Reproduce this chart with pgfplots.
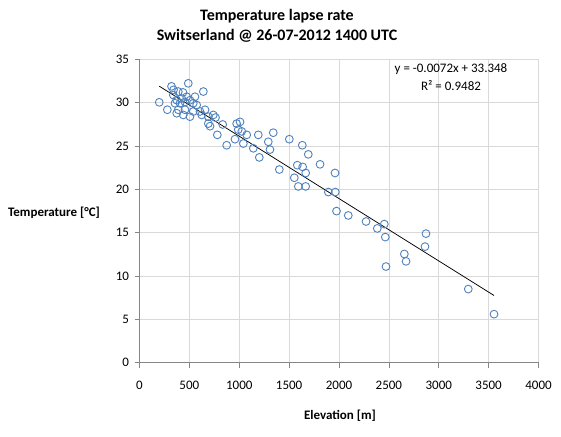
\documentclass[border=0pt]{standalone}
\usepackage{pgfplots}
\pgfplotsset{compat=1.18}
\usepackage{fontspec}
\setmainfont{Carlito}
\definecolor{mblue}{HTML}{4F81BD}
\definecolor{gridgray}{HTML}{D9D9D9}
\definecolor{axisgray}{HTML}{868686}
\begin{document}
\begin{tikzpicture}
\path[use as bounding box] (0,0) rectangle (561pt,436pt);
\begin{axis}[
  scale only axis, width=399pt, height=303.2pt,
  at={(139.5pt,73.3pt)}, anchor=south west,
  xmin=0, xmax=4000, ymin=0, ymax=35,
  xtick={0,500,...,4000}, ytick={0,5,...,35},
  grid=major, major grid style={color=gridgray, line width=0.75pt},
  axis x line*=bottom, axis y line*=left,
  axis line style={color=axisgray, line width=0.75pt},
  tick align=outside, major tick length=5pt,
  tick style={color=axisgray, line width=0.75pt},
  /pgf/number format/assume math mode=true,
  /pgf/number format/set thousands separator={},
  scaled ticks=false,
  ticklabel style={font=\fontsize{13}{15}\selectfont, text=black},
  xticklabel style={yshift=-10pt},
  yticklabel style={xshift=-2pt},
  clip=false,
]
\addplot[only marks, mark=o, mark size=3.9pt, color=mblue, line width=0.9pt] coordinates {
(198,30.06) (279,29.2) (321,31.9) (341,31.5) (389,31.3) (489,32.25) (640,31.3)
(339,30.9) (373,30.3) (423,30.5) (456,30.1) (506,30.3) (539,29.95) (573,29.75)
(389,29.2) (456,29.2) (539,29.0) (606,29.0) (439,28.6) (506,28.4) (624,28.6)
(690,28.4) (740,28.6) (356,29.95) (406,29.95) (473,30.7) (373,28.8) (556,30.7)
(436,31.2) (657,29.2)
(690,27.6) (707,27.3) (762,28.3) (780,26.3) (834,27.5) (874,25.1) (974,27.6)
(1008,27.8) (990,26.9) (1025,26.7) (1075,26.3) (1041,25.3) (957,25.8) (1141,24.75)
(1191,26.3) (1201,23.7) (1291,25.5) (1308,24.6) (1341,26.55) (1402,22.3) (1502,25.8)
(1632,25.1) (1692,24.05) (1582,22.8) (1636,22.6) (1666,21.9) (1552,21.35) (1592,20.35)
(1666,20.35) (1810,22.9) (1960,21.9) (1893,19.7) (1963,19.7) (1975,17.5) (2093,17.0)
(2271,16.3) (2384,15.5) (2454,16.0) (2464,14.5) (2471,11.1) (2655,12.55) (2672,11.7)
(2872,14.9) (2862,13.4) (3296,8.5) (3554,5.6)
};
\addplot[black, line width=0.75pt, no marks] coordinates {(198,31.92) (3554,7.76)};
\node[font=\fontsize{16}{19}\selectfont\bfseries] at (axis description cs:0.3446,1.1428) {Temperature lapse rate};
\node[font=\fontsize{16}{19}\selectfont\bfseries] at (axis description cs:0.3446,1.0775) {Switserland @ 26-07-2012 1400 UTC};
\node[font=\fontsize{13}{15}\selectfont] at (axis description cs:0.7807,0.9687) {y = -0.0072x + 33.348};
\node[font=\fontsize{13}{15}\selectfont] at (axis description cs:0.7807,0.9142) {R² = 0.9482};
\node[font=\fontsize{13}{15}\selectfont\bfseries] at (axis description cs:0.5025,-0.174) {Elevation [m]};
\node[font=\fontsize{13}{15}\selectfont\bfseries] at (axis description cs:-0.2143,0.496) {Temperature [°C]};
\end{axis}
\end{tikzpicture}
\end{document}
